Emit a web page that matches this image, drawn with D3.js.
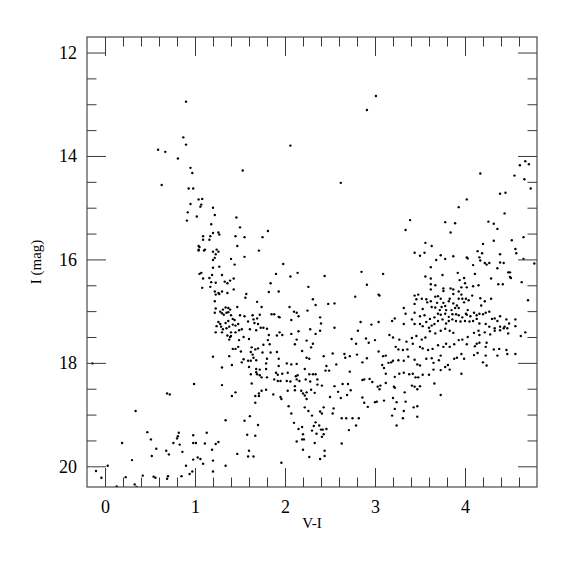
<!DOCTYPE html>
<html><head><meta charset="utf-8">
<script src="https://cdn.jsdelivr.net/npm/d3@7"></script>
<style>body{margin:0;background:#fff}svg{display:block}</style>
</head><body>
<svg id="c" width="575" height="575"></svg>
<script>
// Tick values / labels
const xMajorTicks = [0, 1, 2, 3, 4];
const xMinorTicks = [0.2,0.4,0.6,0.8,1.2,1.4,1.6,1.8,2.2,2.4,2.6,2.8,3.2,3.4,3.6,3.8,4.2,4.4,4.6];
const yMajorTicks = [12, 14, 16, 18, 20];
const yMinorTicks = [12.5,13,13.5,14.5,15,15.5,16.5,17,17.5,18.5,19,19.5];
const xTitle = "V-I";
const yTitle = "I (mag)";

// Stars: [V-I, I]
const brightBlue = [[0.90,12.95],[0.87,13.64],[0.90,13.78],[0.59,13.88],[0.67,13.92],[0.81,14.05],[0.95,14.23],[0.97,14.33],[1.53,14.28],[2.06,13.80],[0.93,14.63],[0.98,14.63],[1.04,14.84],[1.08,14.83],[0.95,14.93],[1.07,14.94],[1.06,14.98],[1.20,15.00],[0.92,15.09],[1.02,15.17],[1.22,15.14],[0.91,15.25],[1.46,15.19],[1.18,15.32],[1.50,15.38],[1.81,15.45],[1.20,15.49],[1.26,15.48],[1.27,15.52],[1.09,15.55],[1.17,15.55],[1.45,15.55],[1.75,15.57],[1.55,15.57],[1.09,15.62],[1.16,15.62],[1.04,15.74],[1.05,15.76],[1.47,15.74],[1.24,15.81],[1.04,15.81],[1.11,15.81],[0.63,14.56],[-0.14,18.01]];

const brightRed = [[4.67,14.10],[4.61,14.18],[4.71,14.16],[4.17,14.34],[4.55,14.38],[4.66,14.45],[3.01,12.84],[2.91,13.11],[2.62,14.52],[4.73,14.63],[4.39,14.73],[4.45,14.71],[4.02,14.84],[3.93,14.99],[4.44,15.11],[3.39,15.24],[3.34,15.43],[3.78,15.28],[3.89,15.30],[3.84,15.48],[4.26,15.27],[4.32,15.31],[4.36,15.41],[4.52,15.63],[4.32,15.64],[4.65,15.57],[4.56,15.80],[4.57,15.88],[4.20,15.70],[3.56,15.68],[3.63,15.74],[3.44,15.87],[3.50,15.93],[3.55,15.87],[3.73,15.92],[3.68,16.01],[3.78,15.99],[3.87,15.94],[4.02,15.96],[4.03,15.98],[4.14,15.84],[4.19,15.88],[4.16,15.96],[4.17,16.02],[4.22,16.07],[4.24,16.10],[4.27,16.07],[4.09,16.11],[4.39,15.90],[4.39,16.06],[4.43,16.07],[4.65,15.99],[4.77,16.08],[4.36,16.17],[4.48,16.25],[4.50,16.25],[4.50,16.34],[4.51,16.36],[3.62,16.15],[2.85,16.24],[3.09,16.28],[3.56,16.33],[3.62,16.37],[3.75,16.30],[3.92,16.26],[3.99,16.36],[4.11,16.28],[4.29,16.37]];

const midField = [[1.04,15.83],[1.10,15.83],[1.20,15.85],[1.23,15.90],[1.26,15.85],[1.22,15.97],[1.20,16.01],[1.71,15.83],[1.55,15.95],[1.40,15.99],[1.44,16.10],[1.20,16.16],[1.27,16.14],[1.98,16.09],
[1.05,16.28],[1.07,16.26],[1.19,16.30],[1.16,16.36],[1.09,16.37],[1.18,16.44],[1.23,16.45],[1.30,16.30],[1.33,16.43],[1.39,16.41],[1.36,16.46],[1.43,16.37],[1.90,16.28],[2.06,16.33],[2.14,16.26],[2.44,16.32],
[1.08,16.55],[1.17,16.53],[1.43,16.58],[1.84,16.46],[2.26,16.53],
[1.22,16.62],[1.26,16.65],[1.23,16.68],[1.30,16.62],[1.36,16.65],[1.27,16.67],[1.57,16.67],[1.56,16.74],[1.82,16.63],[1.93,16.62],
[1.22,16.81],[1.69,16.82],[2.31,16.77],[2.34,16.88],[2.48,16.86],[2.55,16.85],[2.78,16.72],
[1.47,16.92],[1.23,16.95],[1.22,17.03],[1.28,17.01],[1.31,16.97],[1.34,16.93],[1.37,16.94],[1.39,16.97],[1.30,17.04],[1.32,17.07],[1.35,17.03],[1.37,17.02],[1.40,17.08],[2.05,16.92],[2.10,17.01],[2.13,17.03],[2.25,16.99],[1.74,16.92],
[1.50,17.08],[1.55,17.10],[1.64,17.08],[1.72,17.07],[1.85,17.06],[1.88,17.06],[1.93,17.11],[1.94,17.12],[2.15,17.10],[2.39,17.12],
[1.26,17.21],[1.28,17.25],[1.34,17.23],[1.42,17.15],[1.44,17.17],[1.37,17.19],[1.59,17.20],[1.65,17.16],[1.69,17.14],[1.70,17.25],[1.66,17.23],[2.07,17.17],[2.40,17.24],
[1.24,17.29],[1.29,17.30],[1.31,17.35],[1.35,17.33],[1.38,17.30],[1.42,17.26],[1.45,17.28],[1.48,17.25],[1.49,17.37],[1.52,17.35],[1.40,17.41],[1.30,17.41],[1.61,17.35],[1.68,17.37],[1.73,17.32],[1.76,17.32],[1.80,17.34],[1.94,17.41],[2.15,17.39],[2.28,17.35],[2.39,17.38],[2.55,17.32],
[1.23,17.41],[1.36,17.47],[1.39,17.50],[1.40,17.48],[1.38,17.55],[1.45,17.41],[1.54,17.50],[1.82,17.46],[1.91,17.47],[1.97,17.46],[2.07,17.44],[2.34,17.44],[2.81,17.38],
[1.49,17.56],[1.60,17.54],[1.81,17.56],[2.13,17.55],[2.24,17.57],[2.74,17.54],
[1.48,17.69],[1.45,17.73],[1.42,17.73],[1.63,17.70],[1.67,17.74],[1.70,17.72],[1.76,17.65],[1.83,17.64],[2.11,17.64],[2.31,17.63],[2.29,17.70],[2.79,17.63],
[1.51,17.78],[1.62,17.79],[1.64,17.84],[1.65,17.90],[1.75,17.80],[1.84,17.80],[1.91,17.79],[2.19,17.77],[2.43,17.87],[2.53,17.82],[2.66,17.83],[2.67,17.90],[2.72,17.87],[2.80,17.84],
[1.20,17.88],[1.38,17.87],[1.54,17.93],[1.52,17.99],[1.59,17.96],[1.68,17.95],[1.62,17.96],[1.80,17.92],[1.79,18.01],[1.93,17.92],[2.24,17.90],[2.27,17.92],[2.02,18.01],[2.07,18.03],[2.13,18.02],
[1.30,18.09],[1.41,18.04],[1.60,18.08],[1.79,18.12],[1.68,18.12],[1.72,18.13],[1.93,18.06],[2.22,18.12],[2.46,18.06],[2.45,18.15],[2.49,18.15],[2.57,18.03],
[1.62,18.22],[1.69,18.22],[1.68,18.18],[1.72,18.24],[1.90,18.19],[1.92,18.23],[1.97,18.21],[2.03,18.19],[2.14,18.24],[2.12,18.26],[2.27,18.22],[2.31,18.22],[2.34,18.22],[2.72,18.17],
[0.99,18.41],[1.30,18.43],[1.63,18.40],[1.74,18.28],[1.80,18.28],[1.88,18.32],[1.92,18.35],[1.95,18.35],[2.02,18.35],[2.06,18.36],[2.13,18.32],[2.16,18.35],[2.11,18.45],[2.23,18.32],[2.28,18.36],[2.36,18.32],[2.36,18.42],[2.41,18.44],[2.55,18.45],[2.64,18.41],[2.70,18.41],
[1.41,18.64],[1.45,18.57],[1.67,18.64],[1.71,18.59],[1.74,18.54],[1.79,18.52],[1.71,18.64],[1.87,18.61],[1.95,18.66],[1.96,18.70],[2.03,18.54],[2.11,18.53],[2.18,18.54],[2.20,18.59],[2.22,18.63],[2.24,18.57],[2.29,18.52],[2.33,18.58],[2.24,18.70],[2.50,18.66],[2.59,18.56],[2.62,18.68],[2.69,18.62],[2.73,18.53]];

const faintMid = [[2.91,16.49],[3.04,16.68],[2.84,17.21],[2.96,17.26],[3.04,17.21],[2.90,17.53],[2.93,17.61],[3.00,17.56],[2.86,17.99],[2.91,17.91],[3.04,17.78],[2.88,18.32],[2.94,18.31],[2.86,18.33],[2.97,18.37],[3.03,18.46],[2.86,18.67],[2.92,18.85],[3.02,18.75],[2.88,18.77],[3.00,18.76],
[3.06,18.44],[3.05,18.51],[3.44,18.46],[3.47,18.51],[3.50,18.45],[3.41,18.44],[3.33,18.57],[3.21,18.46],[3.66,18.40],[3.73,18.62],[3.10,18.73],[3.20,18.68],[3.24,18.76],[3.22,18.89],[3.34,18.75],[3.43,18.86],[3.47,18.84],[3.47,19.04],[3.32,18.93],[3.24,19.21],[3.19,19.02],[3.31,19.07],[3.12,18.39],[3.22,18.48],
[2.04,18.84],[2.07,18.98],[2.10,19.16],[2.15,19.28],[2.19,19.24],[2.20,19.38],[2.13,19.52],[2.19,19.48],[2.21,19.48],[2.20,19.68],[2.27,19.82],[2.39,19.86],[2.44,19.80],[2.44,19.70],[2.33,19.55],[2.41,19.43],[2.43,19.38],[2.40,19.29],[2.35,19.37],[2.30,19.31],[2.32,19.22],[2.38,19.21],[2.42,19.29],[2.46,19.28],[2.34,19.15],[2.30,19.02],[2.39,18.94],[2.41,18.98],[2.43,18.86],[2.26,18.93],[2.22,18.86],[2.53,18.98],[2.54,18.88],[2.63,19.07],[2.68,19.07],[2.63,19.56],[2.75,19.07],[2.79,19.21],[2.82,19.07],[2.71,19.30],[1.96,19.93]];

const redField = [[3.94,16.40],[4.00,16.46],[4.02,16.54],[4.09,16.52],[4.15,16.50],[4.37,16.48],[4.42,16.48],[4.63,16.44],[3.62,16.48],[3.62,16.58],[3.67,16.50],[3.76,16.56],[3.76,16.61],[3.84,16.56],[3.87,16.58],[3.87,16.67],[3.93,16.62],[3.96,16.54],[3.96,16.68],[3.93,16.76],[3.97,16.76],[3.99,16.83],[4.01,16.76],[4.04,16.79],[4.08,16.70],[4.17,16.75],[4.22,16.81],[4.29,16.76],[4.18,16.89],[4.70,16.79],[3.05,16.70],
[3.44,16.70],[3.48,16.68],[3.46,16.77],[3.52,16.76],[3.57,16.77],[3.58,16.83],[3.62,16.81],[3.67,16.72],[3.70,16.71],[3.73,16.76],[3.69,16.84],[3.76,16.84],[3.78,16.90],[3.82,16.81],[3.83,16.76],[3.87,16.85],[3.91,16.89],[3.93,16.94],[3.89,16.94],[3.85,16.98],[3.79,16.98],[3.74,16.92],[3.72,16.98],[3.67,16.93],[3.63,16.92],[3.53,16.96],[3.44,16.86],[3.32,16.94],[3.34,17.05],[3.44,17.03],[3.50,17.10],[3.55,17.08],[3.61,17.15],[3.66,17.12],[3.70,17.05],[3.73,17.07],[3.78,17.05],[3.82,17.11],[3.86,17.06],[3.90,17.06],[3.93,17.08],[3.97,17.12],[4.01,17.05],[4.03,16.98],[4.02,17.07],[4.06,17.10],[4.10,17.03],[4.13,17.08],[4.16,17.05],[4.20,17.06],[4.23,17.03],[4.27,17.01],[4.30,17.15],[4.33,17.14],[4.36,17.19],[4.39,17.10],[4.46,17.16],[4.56,17.16],[4.56,17.29],[4.49,17.24],[4.44,17.30],[4.39,17.30],[4.33,17.33],[4.27,17.30],[4.23,17.25],[4.16,17.24],[4.13,17.15],[4.09,17.19],[4.05,17.20],[4.00,17.19],[3.95,17.20],[3.90,17.19],[3.86,17.16],[3.82,17.19],[3.79,17.24],[3.75,17.16],[3.70,17.19],[3.66,17.25],[3.63,17.28],[3.60,17.32],[3.57,17.21],[3.53,17.29],[3.50,17.25],[3.44,17.25],[3.41,17.16],[3.32,17.25],[3.22,17.14],[3.19,17.19],
[3.16,17.46],[3.20,17.51],[3.27,17.55],[3.35,17.59],[3.41,17.52],[3.46,17.48],[3.52,17.55],[3.56,17.51],[3.61,17.39],[3.67,17.43],[3.73,17.38],[3.78,17.34],[3.83,17.38],[3.87,17.42],[3.93,17.56],[3.97,17.55],[4.03,17.50],[4.10,17.42],[4.15,17.38],[4.16,17.46],[4.22,17.41],[4.28,17.45],[4.33,17.38],[4.39,17.37],[4.43,17.33],[4.47,17.33],[4.48,17.43],[4.62,17.48],[4.67,17.41],
[3.23,17.69],[3.26,17.74],[3.31,17.75],[3.36,17.74],[3.42,17.63],[3.50,17.69],[3.53,17.72],[3.59,17.75],[3.64,17.73],[3.70,17.66],[3.76,17.69],[3.79,17.63],[3.83,17.69],[3.88,17.64],[4.02,17.64],[4.11,17.68],[4.13,17.63],[4.16,17.61],[4.23,17.69],[4.24,17.61],[4.32,17.74],[4.38,17.73],[4.46,17.75],[4.47,17.83],[4.56,17.83],[4.36,17.86],
[3.09,17.87],[3.12,17.86],[3.15,18.00],[3.08,18.04],[3.10,18.10],[3.18,17.99],[3.20,17.96],[3.26,17.95],[3.32,17.96],[3.37,17.88],[3.44,17.94],[3.47,18.03],[3.50,18.05],[3.57,17.92],[3.63,17.91],[3.65,18.00],[3.71,17.95],[3.73,17.86],[3.78,18.08],[3.81,18.04],[3.88,17.92],[3.91,17.90],[3.96,17.83],[3.99,17.92],[4.10,17.85],[4.14,17.81],[4.20,17.99],[4.23,17.86],[4.24,18.05],
[3.12,18.21],[3.22,18.27],[3.27,18.21],[3.32,18.19],[3.38,18.22],[3.42,18.21],[3.45,18.28],[3.48,18.28],[3.53,18.23],[3.60,18.23],[3.65,18.13],[3.73,18.14],[3.83,18.13],[3.96,18.21]];

const faintBlue = [[0.69,18.59],[0.72,18.61],[0.34,18.93],[1.67,18.77],[1.34,19.11],[1.55,19.12],[1.61,19.03],[1.70,19.20],[1.58,19.39],[1.67,19.41],[1.60,19.70],[1.59,19.81],[1.65,19.81],[1.47,19.76],[1.34,19.99],[1.20,19.89],[1.20,20.10],[1.23,19.57],[1.26,19.53],[1.19,19.68],[1.13,19.35],[1.11,19.56],[1.09,19.95],[1.06,19.86],[1.03,19.83],[1.01,19.55],[0.98,19.55],[0.98,19.40],[0.98,19.87],[0.97,20.10],[0.94,20.15],[0.90,19.99],[0.86,19.72],[0.83,19.58],[0.76,19.55],[0.82,19.35],[0.81,19.42],[0.80,19.46],[0.71,19.77],[0.68,19.70],[0.85,20.19],[0.70,20.19],[0.69,20.24],[0.57,19.66],[0.52,19.80],[0.51,19.48],[0.47,19.34],[0.54,20.20],[0.56,20.22],[0.42,20.18],[0.30,19.88],[0.19,19.55],[0.23,20.21],[0.33,20.35],[0.35,20.40],[0.13,20.39],[0.03,19.99],[-0.10,20.09],[-0.04,20.22]];

const stars = [].concat(brightBlue, brightRed, midField, faintMid, redField, faintBlue);

const svg = d3.select("#c");
const x = d3.scaleLinear().domain([-0.2, 4.8]).range([87, 537]);
const y = d3.scaleLinear().domain([11.7, 20.4]).range([37, 487]);
const X0 = x.range()[0], X1 = x.range()[1], Y0 = y.range()[0], Y1 = y.range()[1];

const clipId = "pc";
svg.append("clipPath").attr("id", clipId).append("rect")
  .attr("x", X0).attr("y", Y0).attr("width", X1 - X0).attr("height", Y1 - Y0);

// points
svg.append("g").attr("clip-path", "url(#" + clipId + ")")
  .selectAll("circle").data(stars).enter().append("circle")
  .attr("cx", d => x(d[0])).attr("cy", d => y(d[1])).attr("r", 1.2).attr("fill", "#000");

const tickColor = "#3a3a3a";
const serif = "'Liberation Serif', 'Times New Roman', serif";
function styleAxis(g, showLabels) {
  g.select(".domain").remove();
  g.selectAll(".tick line").attr("stroke", tickColor).attr("stroke-width", 1);
  g.selectAll(".tick text").attr("font-family", serif)
    .attr("font-size", 18).attr("fill", "#000");
  if (!showLabels) g.selectAll(".tick text").remove();
}
const MAJ = 19, MIN = 9.5;
// bottom
svg.append("g").attr("transform", `translate(0,${Y1})`)
  .call(d3.axisBottom(x).tickValues(xMajorTicks).tickSize(-MAJ).tickPadding(13).tickFormat(d3.format("d")))
  .call(g => styleAxis(g, true));
svg.append("g").attr("transform", `translate(0,${Y1})`)
  .call(d3.axisBottom(x).tickValues(xMinorTicks).tickSize(-MIN).tickFormat(""))
  .call(g => styleAxis(g, false));
// top
svg.append("g").attr("transform", `translate(0,${Y0})`)
  .call(d3.axisTop(x).tickValues(xMajorTicks).tickSize(-MAJ))
  .call(g => styleAxis(g, false));
svg.append("g").attr("transform", `translate(0,${Y0})`)
  .call(d3.axisTop(x).tickValues(xMinorTicks).tickSize(-MIN))
  .call(g => styleAxis(g, false));
// left
svg.append("g").attr("transform", `translate(${X0},0)`)
  .call(d3.axisLeft(y).tickValues(yMajorTicks).tickSize(-MAJ).tickPadding(10).tickFormat(d3.format("d")))
  .call(g => styleAxis(g, true));
svg.append("g").attr("transform", `translate(${X0},0)`)
  .call(d3.axisLeft(y).tickValues(yMinorTicks).tickSize(-MIN).tickFormat(""))
  .call(g => styleAxis(g, false));
// right
svg.append("g").attr("transform", `translate(${X1},0)`)
  .call(d3.axisRight(y).tickValues(yMajorTicks).tickSize(-MAJ))
  .call(g => styleAxis(g, false));
svg.append("g").attr("transform", `translate(${X1},0)`)
  .call(d3.axisRight(y).tickValues(yMinorTicks).tickSize(-MIN))
  .call(g => styleAxis(g, false));

// frame
svg.append("rect").attr("x", X0).attr("y", Y0).attr("width", X1 - X0).attr("height", Y1 - Y0)
  .attr("fill", "none").attr("stroke", tickColor).attr("stroke-width", 1.1);

// titles
svg.append("text").attr("x", (X0 + X1) / 2).attr("y", 528).attr("text-anchor", "middle")
  .attr("font-family", serif).attr("font-size", 15).text(xTitle);
svg.append("text").attr("transform", `translate(41,${(Y0 + Y1) / 2}) rotate(-90)`).attr("text-anchor", "middle")
  .attr("font-family", serif).attr("font-size", 15).text(yTitle);
</script>
</body></html>
